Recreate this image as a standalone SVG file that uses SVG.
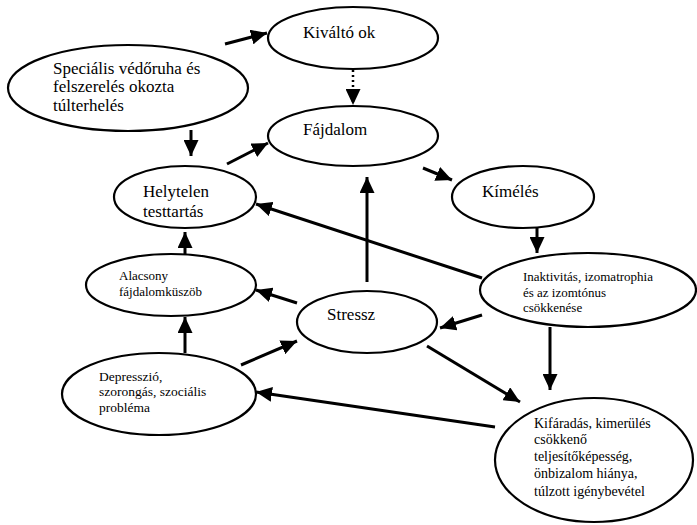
<svg xmlns="http://www.w3.org/2000/svg" width="697" height="525" viewBox="0 0 697 525">
<defs>
<marker id="ah" markerUnits="userSpaceOnUse" markerWidth="17" markerHeight="15" refX="16" refY="7.5" orient="auto">
<path d="M0,0 L16,7.5 L0,15 z" fill="#000"/>
</marker>
<style>
.n{fill:#fff;stroke:#000;stroke-width:2.2}
.c{stroke:#000;stroke-width:3;fill:none;marker-end:url(#ah)}
.d{stroke-width:2.5;stroke-dasharray:2,3}
</style>
</defs>
<rect width="697" height="525" fill="#fff"/>
<g id="connectors">
<line class="c" x1="225" y1="44" x2="267" y2="33"/>
<line class="c" x1="191" y1="130" x2="191" y2="156"/>
<line class="c" x1="227" y1="164" x2="268" y2="143"/>
<line class="c d" x1="353" y1="70" x2="353" y2="105"/>
<line class="c" x1="423" y1="168" x2="452" y2="180"/>
<line class="c" x1="367" y1="282" x2="367" y2="177"/>
<line class="c" x1="537" y1="228" x2="537" y2="253"/>
<line class="c" x1="482" y1="278" x2="256" y2="204"/>
<line class="c" x1="482" y1="315" x2="440" y2="328"/>
<line class="c" x1="297" y1="303" x2="256" y2="290"/>
<line class="c" x1="185" y1="254" x2="185" y2="232"/>
<line class="c" x1="185" y1="353" x2="185" y2="317"/>
<line class="c" x1="241" y1="365" x2="297" y2="341"/>
<line class="c" x1="550" y1="327" x2="550" y2="390"/>
<line class="c" x1="427" y1="346" x2="520" y2="402"/>
<line class="c" x1="495" y1="427" x2="256" y2="392"/>
</g>
<g id="kivalto">
<ellipse class="n" cx="353" cy="38" rx="85" ry="31"/>
<text font-family="Liberation Serif, serif" font-size="17" x="303" y="38">Kiváltó ok</text>
</g>
<g id="specialis">
<ellipse class="n" cx="128" cy="88" rx="120" ry="43"/>
<text font-family="Liberation Serif, serif" font-size="17"><tspan x="53" y="74">Speciális védőruha és</tspan><tspan x="53" y="92">felszerelés okozta</tspan><tspan x="53" y="111">túlterhelés</tspan></text>
</g>
<g id="fajdalom">
<ellipse class="n" cx="353" cy="136" rx="85" ry="30"/>
<text font-family="Liberation Serif, serif" font-size="17" x="303" y="135">Fájdalom</text>
</g>
<g id="helytelen">
<ellipse class="n" cx="185" cy="197" rx="71" ry="31"/>
<text font-family="Liberation Serif, serif" font-size="17"><tspan x="143" y="197">Helytelen</tspan><tspan x="143" y="217">testtartás</tspan></text>
</g>
<g id="kimeles">
<ellipse class="n" cx="523" cy="197" rx="71" ry="31"/>
<text font-family="Liberation Serif, serif" font-size="17" x="482" y="197">Kímélés</text>
</g>
<g id="alacsony">
<ellipse class="n" cx="171" cy="285" rx="85" ry="31"/>
<text font-family="Liberation Serif, serif" font-size="13"><tspan x="119" y="280">Alacsony</tspan><tspan x="119" y="296">fájdalomküszöb</tspan></text>
</g>
<g id="inaktivitas">
<ellipse class="n" cx="588" cy="290" rx="108" ry="37"/>
<text font-family="Liberation Serif, serif" font-size="13"><tspan x="523" y="281">Inaktivitás, izomatrophia</tspan><tspan x="523" y="297">és az izomtónus</tspan><tspan x="523" y="312">csökkenése</tspan></text>
</g>
<g id="stressz">
<ellipse class="n" cx="367" cy="322" rx="70" ry="31"/>
<text font-family="Liberation Serif, serif" font-size="17" x="327" y="320">Stressz</text>
</g>
<g id="depresszio">
<ellipse class="n" cx="159" cy="394" rx="97" ry="41"/>
<text font-family="Liberation Serif, serif" font-size="13.5"><tspan x="99" y="381">Depresszió,</tspan><tspan x="99" y="396">szorongás, szociális</tspan><tspan x="99" y="412">probléma</tspan></text>
</g>
<g id="kifaradas">
<ellipse class="n" cx="594" cy="460" rx="99" ry="62"/>
<text font-family="Liberation Serif, serif" font-size="14"><tspan x="534" y="428">Kifáradás, kimerülés</tspan><tspan x="534" y="444">csökkenő</tspan><tspan x="534" y="461">teljesítőképesség,</tspan><tspan x="534" y="478">önbizalom hiánya,</tspan><tspan x="534" y="496">túlzott igénybevétel</tspan></text>
</g>
</svg>
